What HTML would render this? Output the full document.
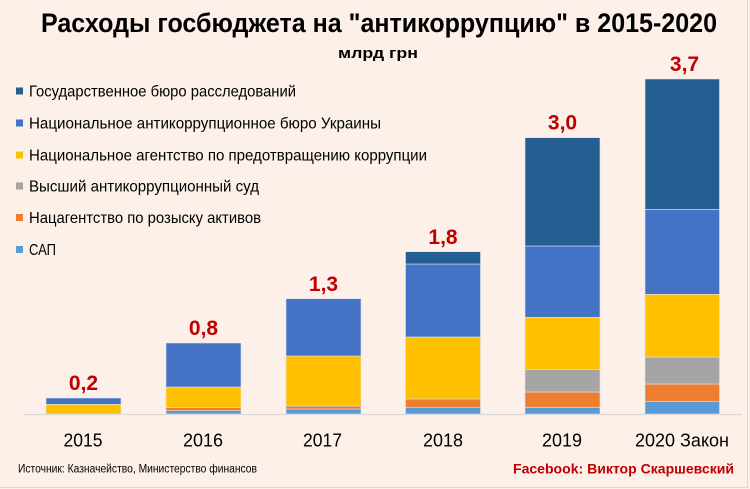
<!DOCTYPE html>
<html><head><meta charset="utf-8"><style>
html,body{margin:0;padding:0;background:#FCF0E9;}
svg{display:block;}
text{font-family:"Liberation Sans","DejaVu Sans",sans-serif;}
</style></head><body>
<svg width="750" height="489" viewBox="0 0 750 489" xmlns="http://www.w3.org/2000/svg">
<rect x="0" y="0" width="750" height="489" fill="#FCF0E9"/>
<line x1="747.5" y1="0" x2="747.5" y2="487.5" stroke="#D9D9D9" stroke-width="1"/>
<line x1="0" y1="487.5" x2="747.5" y2="487.5" stroke="#D9D9D9" stroke-width="1"/>

<text x="41" y="32" font-size="27" font-weight="bold" fill="#000" textLength="676" lengthAdjust="spacingAndGlyphs">Расходы госбюджета на "антикоррупцию" в 2015-2020</text>
<text x="338" y="58" font-size="15" font-weight="bold" fill="#000" textLength="80" lengthAdjust="spacingAndGlyphs">млрд грн</text>

<!-- legend -->
<g font-size="16" fill="#000">
<rect x="16" y="87.5" width="7" height="7" fill="#255E91"/>
<text x="29" y="96.5" textLength="267" lengthAdjust="spacingAndGlyphs">Государственное бюро расследований</text>
<rect x="16" y="119.5" width="7" height="7" fill="#4472C4"/>
<text x="29" y="128.5" textLength="352" lengthAdjust="spacingAndGlyphs">Национальное антикоррупционное бюро Украины</text>
<rect x="16" y="151.5" width="7" height="7" fill="#FFC000"/>
<text x="29" y="160.5" textLength="398" lengthAdjust="spacingAndGlyphs">Национальное агентство по предотвращению коррупции</text>
<rect x="16" y="182.5" width="7" height="7" fill="#A5A5A5"/>
<text x="29" y="191.5" textLength="230" lengthAdjust="spacingAndGlyphs">Высший антикоррупционный суд</text>
<rect x="16" y="214" width="7" height="7" fill="#ED7D31"/>
<text x="29" y="223" textLength="232" lengthAdjust="spacingAndGlyphs">Нацагентство по розыску активов</text>
<rect x="16" y="246" width="7" height="7" fill="#5B9BD5"/>
<text x="29" y="255" textLength="27" lengthAdjust="spacingAndGlyphs">САП</text>
</g>

<!-- axis -->
<line x1="23" y1="414.5" x2="742" y2="414.5" stroke="#D9D9D9" stroke-width="1.2"/>

<g stroke="#DCE3EE" stroke-width="0.6">
<!-- 2015 -->
<rect x="46" y="404.3" width="75" height="9.7" fill="#FFC000"/>
<rect x="46" y="398" width="75" height="6.3" fill="#4472C4"/>
<!-- 2016 -->
<rect x="166" y="410.7" width="75" height="3.3" fill="#5B9BD5"/>
<rect x="166" y="407.7" width="75" height="3" fill="#ED7D31"/>
<rect x="166" y="387" width="75" height="20.7" fill="#FFC000"/>
<rect x="166" y="343" width="75" height="44" fill="#4472C4"/>
<!-- 2017 -->
<rect x="286" y="409" width="75" height="5" fill="#5B9BD5"/>
<rect x="286" y="406" width="75" height="3" fill="#ED7D31"/>
<rect x="286" y="356" width="75" height="50" fill="#FFC000"/>
<rect x="286" y="298.7" width="75" height="57.3" fill="#4472C4"/>
<!-- 2018 -->
<rect x="405.5" y="407.7" width="75" height="6.3" fill="#5B9BD5"/>
<rect x="405.5" y="399" width="75" height="8.7" fill="#ED7D31"/>
<rect x="405.5" y="337" width="75" height="62" fill="#FFC000"/>
<rect x="405.5" y="264" width="75" height="73" fill="#4472C4"/>
<rect x="405.5" y="251.7" width="75" height="12.3" fill="#255E91"/>
<!-- 2019 -->
<rect x="525" y="407.3" width="75" height="6.7" fill="#5B9BD5"/>
<rect x="525" y="392" width="75" height="15.3" fill="#ED7D31"/>
<rect x="525" y="369.7" width="75" height="22.3" fill="#A5A5A5"/>
<rect x="525" y="317.3" width="75" height="52.4" fill="#FFC000"/>
<rect x="525" y="246" width="75" height="71.3" fill="#4472C4"/>
<rect x="525" y="137.7" width="75" height="108.3" fill="#255E91"/>
<!-- 2020 -->
<rect x="645" y="401.3" width="74.5" height="12.7" fill="#5B9BD5"/>
<rect x="645" y="384" width="74.5" height="17.3" fill="#ED7D31"/>
<rect x="645" y="357" width="74.5" height="27" fill="#A5A5A5"/>
<rect x="645" y="294.3" width="74.5" height="62.7" fill="#FFC000"/>
<rect x="645" y="209.3" width="74.5" height="85" fill="#4472C4"/>
<rect x="645" y="79" width="74.5" height="130.3" fill="#255E91"/>
</g>

<!-- value labels -->
<g font-size="21" font-weight="bold" fill="#C00000" text-anchor="middle">
<text x="83.5" y="390">0,2</text>
<text x="203.5" y="335">0,8</text>
<text x="323.5" y="291">1,3</text>
<text x="443" y="244">1,8</text>
<text x="562.5" y="129.5">3,0</text>
<text x="684.5" y="71">3,7</text>
</g>

<!-- year labels -->
<g font-size="18" fill="#000" text-anchor="middle">
<text x="83" y="446.5" textLength="39" lengthAdjust="spacingAndGlyphs">2015</text>
<text x="203" y="446.5" textLength="40" lengthAdjust="spacingAndGlyphs">2016</text>
<text x="322.5" y="446.5" textLength="39" lengthAdjust="spacingAndGlyphs">2017</text>
<text x="443" y="446.5" textLength="40" lengthAdjust="spacingAndGlyphs">2018</text>
<text x="562" y="446.5" textLength="40" lengthAdjust="spacingAndGlyphs">2019</text>
<text x="682" y="446.5" textLength="94" lengthAdjust="spacingAndGlyphs">2020 Закон</text>
</g>

<text x="18" y="472.5" font-size="11.5" fill="#000" textLength="239" lengthAdjust="spacingAndGlyphs">Источник: Казначейство, Министерство финансов</text>
<text x="513" y="473.3" font-size="13.5" font-weight="bold" fill="#C00000" textLength="221" lengthAdjust="spacingAndGlyphs">Facebook: Виктор Скаршевский</text>
</svg>
</body></html>
